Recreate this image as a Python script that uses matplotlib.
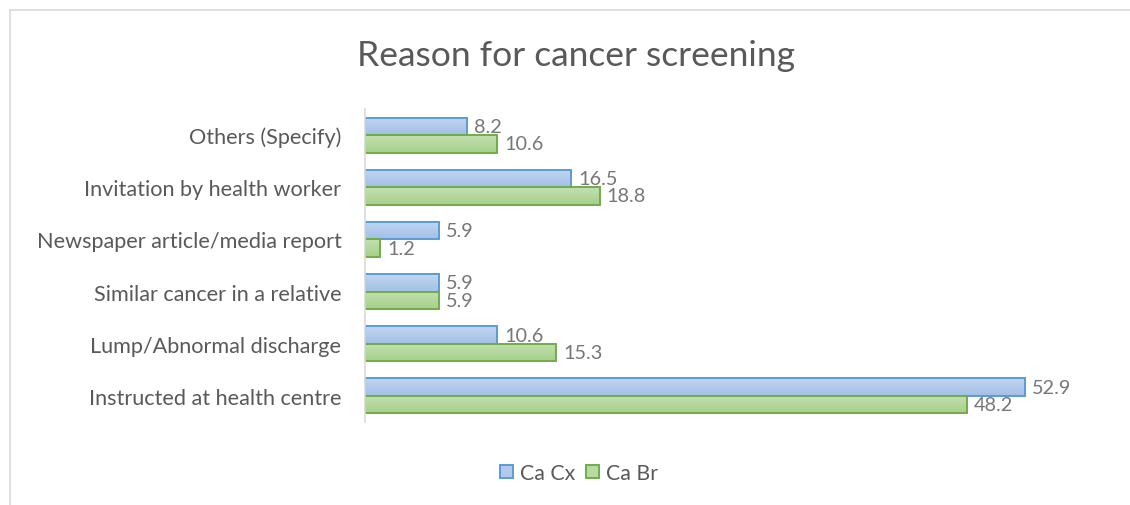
import numpy as np
import matplotlib
matplotlib.use("Agg")
from matplotlib import pyplot as plt
from matplotlib.lines import Line2D
from matplotlib.colors import LinearSegmentedColormap

plt.rcParams['font.family'] = ['Lato', 'DejaVu Sans']

# data (bottom to top as drawn)
categories = ['Instructed at health centre', 'Lump/Abnormal discharge',
              'Similar cancer in a relative', 'Newspaper article/media report',
              'Invitation by health worker', 'Others (Specify)']
ca_cx = [52.9, 10.6, 5.9, 5.9, 16.5, 8.2]
ca_br = [48.2, 15.3, 5.9, 1.2, 18.8, 10.6]
series_names = ['Ca Cx', 'Ca Br']

W, H, DPI = 1130, 506, 100
fig = plt.figure(figsize=(W / DPI, H / DPI), dpi=DPI)

# axes placed in pixel terms
left, right, top, bottom = 365, 1114, 110, 423
ax = fig.add_axes([left / W, 1 - bottom / H, (right - left) / W, (bottom - top) / H])

blue_edge, green_edge = '#5b9bd5', '#70ad47'
blue_cm = LinearSegmentedColormap.from_list('b', ['#c2d6f0', '#a2bfe7'])
green_cm = LinearSegmentedColormap.from_list('g', ['#c4e0b1', '#a5d08a'])

y = np.arange(len(categories))
h = 0.335
b1 = ax.barh(y + h / 2, ca_cx, height=h, facecolor='none', edgecolor=blue_edge, linewidth=1.4, zorder=2)
b2 = ax.barh(y - h / 2, ca_br, height=h, facecolor='none', edgecolor=green_edge, linewidth=1.4, zorder=2)

# gradient fill inside each bar, lighter at top
grad = np.linspace(0, 1, 64).reshape(-1, 1)
for bars, cm in [(b1, blue_cm), (b2, green_cm)]:
    for p in bars:
        x0, y0 = p.get_x(), p.get_y()
        ax.imshow(grad, cmap=cm, aspect='auto', origin='upper',
                  extent=[x0, x0 + p.get_width(), y0, y0 + p.get_height()],
                  interpolation='bilinear', zorder=1.5)

for bars, vals in [(b1, ca_cx), (b2, ca_br)]:
    for p, v in zip(bars, vals):
        ax.annotate(f'{v:.1f}', (p.get_width(), p.get_y() + p.get_height() / 2),
                    xytext=(5, 0), textcoords='offset points', va='center', ha='left',
                    fontsize=14.3, color='#777777', zorder=3)

ax.set_xlim(0, 60)
ax.set_ylim(-0.5, len(categories) - 0.5)
ax.set_yticks(y)
ax.set_yticklabels(categories, fontsize=15.6, color='#595959')
ax.tick_params(axis='y', length=0, pad=17)
ax.set_xticks([])
for s in ['top', 'right', 'bottom']:
    ax.spines[s].set_visible(False)
ax.spines['left'].set_color('#d9d9d9')
ax.spines['left'].set_linewidth(1.2)

fig.text(576 / W, 1 - 56 / H, 'Reason for cancer screening', ha='center', va='center',
         fontsize=25.5, color='#595959')

handles = [plt.Rectangle((0, 0), 1, 1, facecolor='#b2cbec', edgecolor=blue_edge, linewidth=1.4),
           plt.Rectangle((0, 0), 1, 1, facecolor='#b6da9f', edgecolor=green_edge, linewidth=1.4)]
fig.legend(handles, series_names, loc='center', bbox_to_anchor=(579 / W, 1 - 474 / H),
           ncol=2, frameon=False, fontsize=15.3, labelcolor='#595959',
           handlelength=0.6, handleheight=0.6, handletextpad=0.35, columnspacing=0.5)

# chart border (top and left visible)
fig.add_artist(Line2D([10 / W, 1], [1 - 11 / H, 1 - 11 / H], transform=fig.transFigure, color='#d9d9d9', lw=1.2))
fig.add_artist(Line2D([10 / W, 10 / W], [1 - 11 / H, 0], transform=fig.transFigure, color='#d9d9d9', lw=1.2))

fig.savefig('out.png', dpi=DPI)
